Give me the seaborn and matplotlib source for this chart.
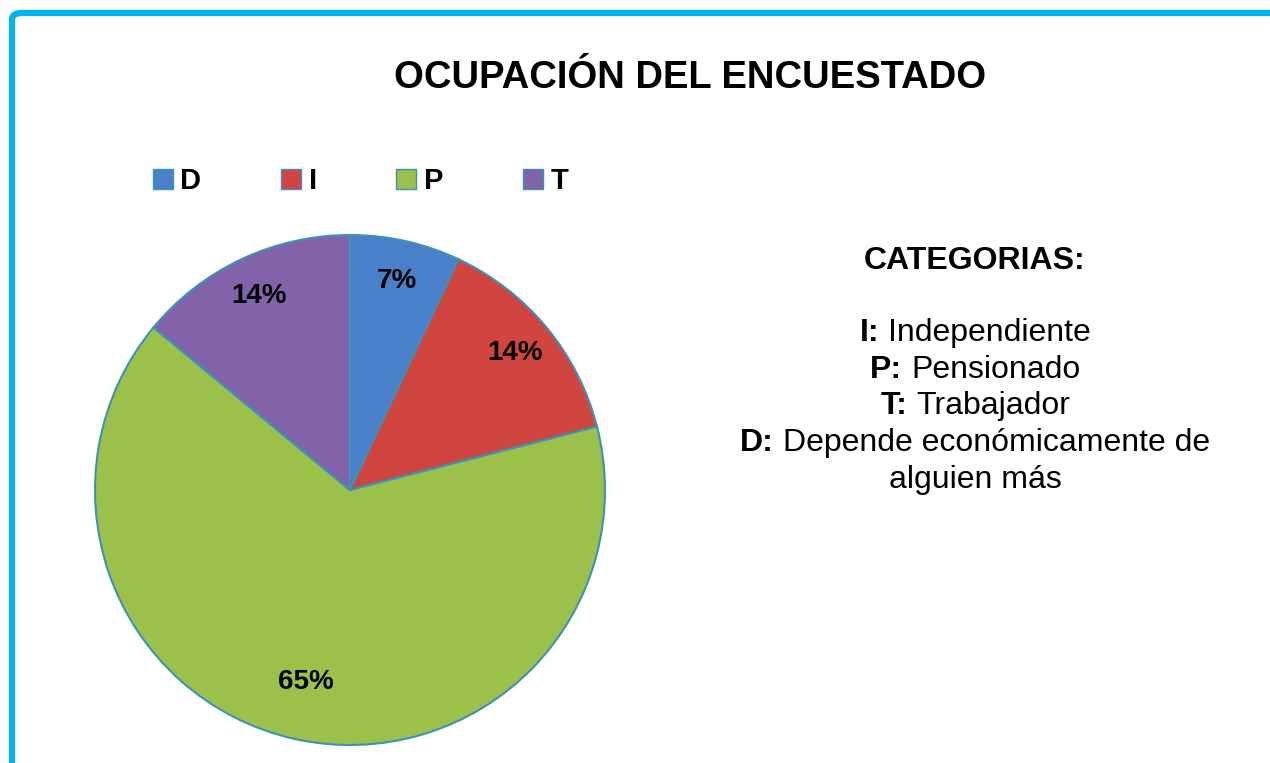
import matplotlib
matplotlib.use("Agg")
import matplotlib.pyplot as plt
import seaborn as sns
from matplotlib.patches import FancyBboxPatch
from matplotlib.lines import Line2D

# datos del gráfico
categorias = ["D", "I", "P", "T"]
porcentajes = [7, 14, 65, 14]
colores = ["#4A7FC9", "#D0453F", "#9BC14A", "#8262A8"]

titulo = "OCUPACIÓN DEL ENCUESTADO"
notas = [("I:", "Independiente"), ("P:", "Pensionado"), ("T:", "Trabajador"),
         ("D:", "Depende económicamente de")]

sns.set_theme(style="white")
plt.rcParams['font.family'] = ['Liberation Sans', 'DejaVu Sans']
plt.rcParams['text.color'] = 'black'

W, H = 1270, 763
fig = plt.figure(figsize=(W / 100, H / 100), dpi=100)
fig.patch.set_facecolor("white")

def fx(x):
    return x / W

def fy(y):
    return 1 - y / H

# marco azul (solo arriba e izquierda visibles)
marco = FancyBboxPatch((fx(12), fy(800)), fx(1400), fy(13) - fy(800),
                       boxstyle="round,pad=0,rounding_size=0.008",
                       transform=fig.transFigure, facecolor="none",
                       edgecolor="#00B4F0", linewidth=4.5, clip_on=False)
fig.patches.append(marco)

# pastel
cx, cy, r = 350, 490, 255
ax = fig.add_axes([fx(cx - r), fy(cy + r), (2 * r) / W, (2 * r) / H])
wedges, textos, pcts = ax.pie(porcentajes, colors=colores, startangle=90, counterclock=False,
                              autopct=lambda p: f"{p:.0f}%", pctdistance=0.84,
                              wedgeprops=dict(edgecolor="#3C92B8", linewidth=1.5),
                              textprops=dict(fontsize=20, fontweight="bold", color="black"))
# la etiqueta del 65% queda un poco más adentro
px, py = pcts[2].get_position()
pcts[2].set_position((px * 0.94, py * 0.92))
ax.set_aspect("equal")
ax.set_xlim(-1, 1)
ax.set_ylim(-1, 1)
ax.axis("off")

# título
fig.text(fx(690), fy(78), titulo, ha="center", va="center",
         fontsize=27.5, fontweight="bold", color="black")

# leyenda
handles = [Line2D([], [], marker="s", linestyle="none", markersize=14,
                  markerfacecolor=c, markeredgecolor="#3C92B8", markeredgewidth=1)
           for c in colores]
fig.legend(handles, categorias, loc="center left", bbox_to_anchor=(fx(151), fy(181)),
           ncol=4, frameon=False, handlelength=0.8, handletextpad=0.2,
           columnspacing=2.68, borderaxespad=0, borderpad=0,
           prop=dict(size=21, weight="bold"))

# categorías
fs = 23
fig.text(fx(975), fy(261), "CATEGORIAS:", ha="center", va="center",
         fontsize=fs, fontweight="bold")
ys = [333, 370, 406, 443]
fig.canvas.draw()
rend = fig.canvas.get_renderer()
for (k, v), y in zip(notas, ys):
    tk = fig.text(fx(0), fy(y), k + " ", ha="left", va="center", fontsize=fs,
                  fontweight="bold")
    tv = fig.text(fx(0), fy(y), v, ha="left", va="center", fontsize=fs)
    wk = tk.get_window_extent(rend).width
    wv = tv.get_window_extent(rend).width
    x0 = 975 - (wk + wv) / 2
    tk.set_text(k)
    tk.set_x(fx(x0))
    tv.set_x(fx(x0 + wk))
fig.text(fx(975), fy(480), "alguien más", ha="center", va="center", fontsize=fs)

fig.savefig("out.png", dpi=100)
